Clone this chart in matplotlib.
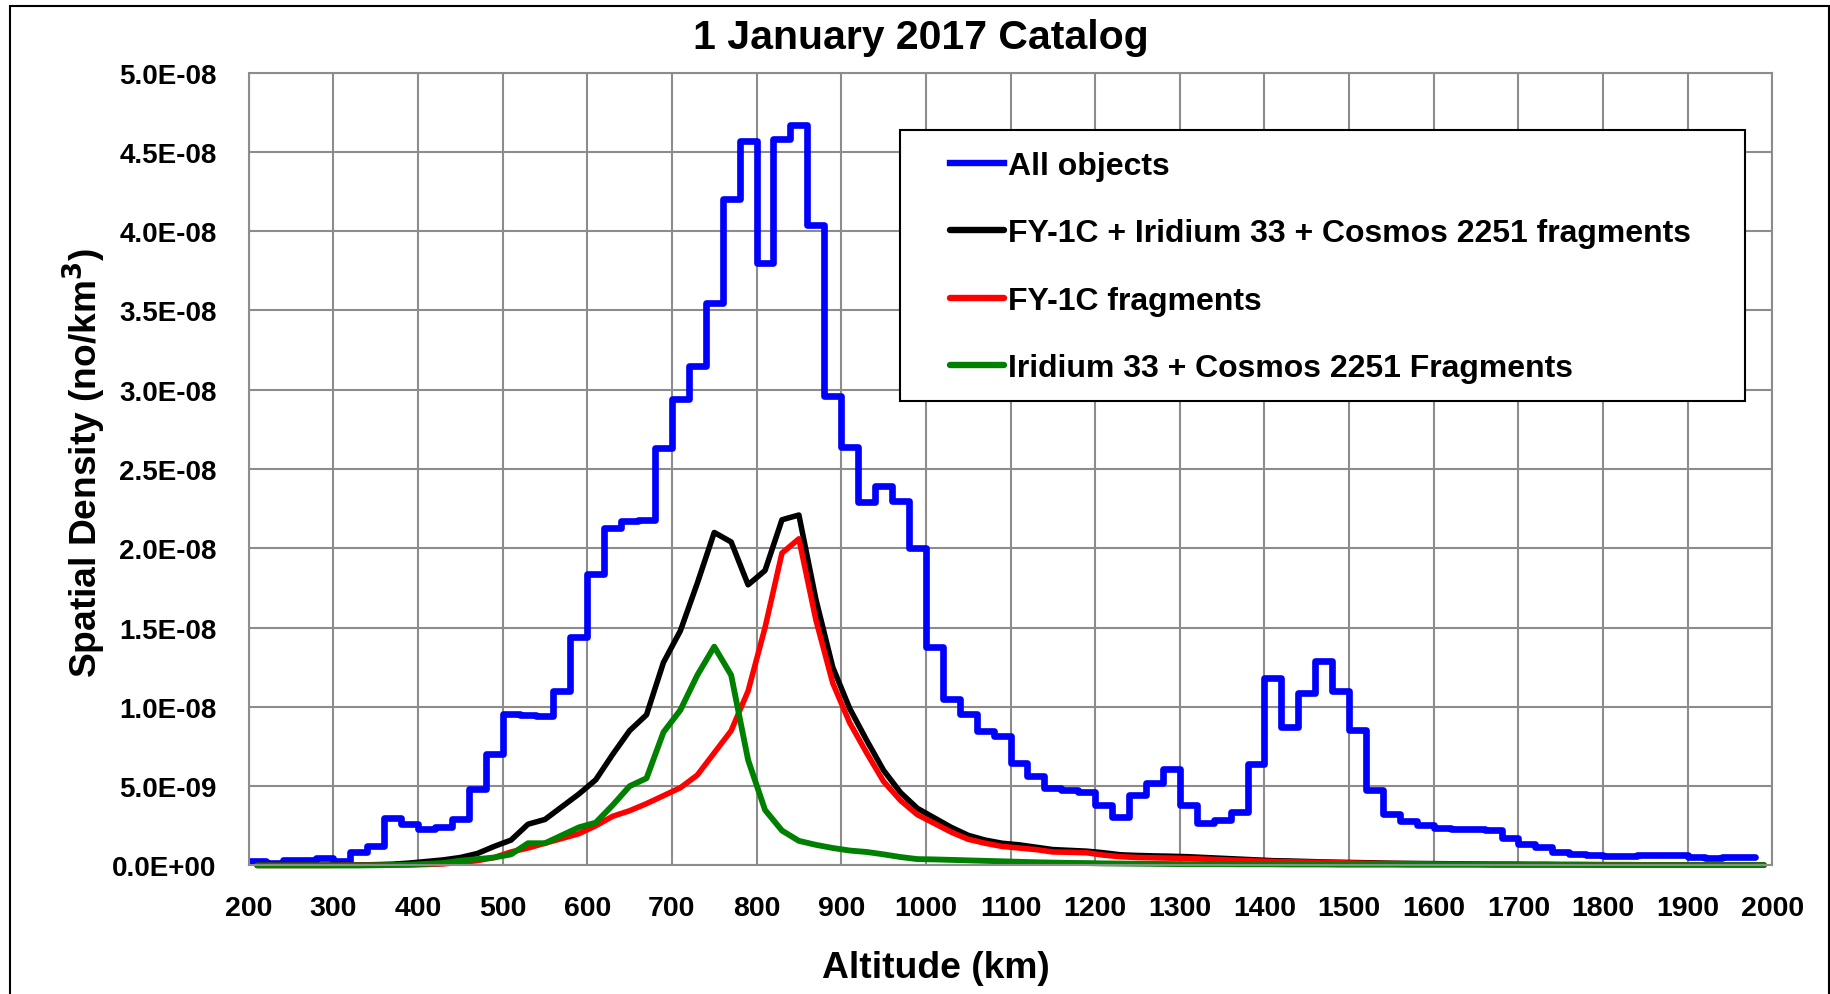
import matplotlib.pyplot as plt
import matplotlib.patches as mpatches
import numpy as np

plt.rcParams['font.family'] = ['Liberation Sans', 'DejaVu Sans']
plt.rcParams['font.weight'] = 'bold'

# spatial density values below are in units of 1e-8 no/km^3
SCALE = 1e-8

# All objects: 20 km bins, left edges 200 ... 1960
bin_left = list(range(200, 1961, 20))
all_objects = [
    0.025, 0.015, 0.035, 0.035, 0.045, 0.03, 0.085, 0.125, 0.30, 0.26,
    0.23, 0.24, 0.29, 0.48, 0.70, 0.956, 0.947, 0.944, 1.10, 1.44,
    1.84, 2.13, 2.17, 2.18, 2.63, 2.94, 3.15, 3.55, 4.20, 4.57,
    3.80, 4.58, 4.67, 4.04, 2.96, 2.64, 2.29, 2.39, 2.30, 2.00,
    1.38, 1.05, 0.956, 0.85, 0.815, 0.646, 0.562, 0.488, 0.474, 0.463,
    0.379, 0.305, 0.442, 0.52, 0.61, 0.379, 0.27, 0.284, 0.337, 0.638,
    1.185, 0.874, 1.09, 1.29, 1.10, 0.857, 0.474, 0.322, 0.28, 0.253,
    0.238, 0.232, 0.232, 0.225, 0.175, 0.133, 0.116, 0.084, 0.074, 0.067,
    0.059, 0.059, 0.063, 0.063, 0.063, 0.053, 0.05, 0.055, 0.055,
]
bin_edges = bin_left + [1980]

# fragment curves: bin centres 210 ... 1990
alt_mid = list(range(210, 1991, 20))
frag_all = [
    0.002, 0.002, 0.002, 0.002, 0.002, 0.003, 0.003, 0.005, 0.008, 0.015,
    0.025, 0.035, 0.05, 0.075, 0.12, 0.16, 0.26, 0.29, 0.37, 0.45,
    0.54, 0.70, 0.85, 0.95, 1.28, 1.48, 1.78, 2.10, 2.04, 1.77,
    1.86, 2.18, 2.21, 1.68, 1.25, 0.99, 0.79, 0.60, 0.46, 0.36,
    0.30, 0.24, 0.19, 0.16, 0.14, 0.13, 0.115, 0.10, 0.095, 0.09,
    0.08, 0.067, 0.063, 0.06, 0.058, 0.055, 0.05, 0.045, 0.04, 0.035,
    0.03, 0.028, 0.025, 0.022, 0.02, 0.018, 0.016, 0.014, 0.013, 0.012,
    0.011, 0.010, 0.009, 0.008, 0.008, 0.007, 0.007, 0.006, 0.006, 0.005,
    0.005, 0.005, 0.004, 0.004, 0.004, 0.004, 0.003, 0.003, 0.003, 0.003,
]
fy1c = [
    0.0, 0.0, 0.0, 0.0, 0.0, 0.001, 0.001, 0.002, 0.003, 0.004,
    0.006, 0.01, 0.02, 0.03, 0.05, 0.085, 0.11, 0.14, 0.17, 0.20,
    0.25, 0.31, 0.345, 0.39, 0.44, 0.49, 0.57, 0.71, 0.85, 1.10,
    1.50, 1.97, 2.06, 1.55, 1.15, 0.90, 0.71, 0.53, 0.41, 0.32,
    0.265, 0.21, 0.165, 0.14, 0.12, 0.11, 0.10, 0.085, 0.083, 0.08,
    0.065, 0.055, 0.05, 0.048, 0.046, 0.044, 0.04, 0.036, 0.032, 0.028,
    0.025, 0.023, 0.021, 0.019, 0.017, 0.015, 0.013, 0.012, 0.011, 0.010,
    0.009, 0.008, 0.008, 0.007, 0.007, 0.006, 0.006, 0.005, 0.005, 0.005,
    0.004, 0.004, 0.004, 0.003, 0.003, 0.003, 0.003, 0.002, 0.002, 0.002,
]
irid_cosmos = [
    0.0, 0.0, 0.0, 0.0, 0.0, 0.0, 0.0, 0.001, 0.003, 0.005,
    0.01, 0.015, 0.03, 0.04, 0.05, 0.07, 0.14, 0.14, 0.19, 0.24,
    0.27, 0.38, 0.50, 0.55, 0.84, 0.98, 1.20, 1.38, 1.20, 0.665,
    0.35, 0.22, 0.155, 0.13, 0.11, 0.094, 0.085, 0.07, 0.053, 0.04,
    0.038, 0.035, 0.032, 0.029, 0.026, 0.023, 0.02, 0.018, 0.016, 0.015,
    0.013, 0.012, 0.011, 0.01, 0.009, 0.008, 0.008, 0.008, 0.007, 0.007,
    0.007, 0.006, 0.006, 0.006, 0.005, 0.005, 0.005, 0.005, 0.004, 0.004,
    0.004, 0.004, 0.004, 0.003, 0.003, 0.003, 0.003, 0.003, 0.003, 0.002,
    0.002, 0.002, 0.002, 0.002, 0.002, 0.002, 0.002, 0.002, 0.002, 0.002,
]

labels = ['All objects', 'FY-1C + Iridium 33 + Cosmos 2251 fragments',
          'FY-1C fragments', 'Iridium 33 + Cosmos 2251 Fragments']
colors = ['#0000ff', '#000000', '#ff0000', '#008000']

fig = plt.figure(figsize=(18.31, 9.95), dpi=100)
ax = fig.add_axes([0.1358, 0.1292, 0.8322, 0.7968])

line_kw = dict(solid_capstyle='round', solid_joinstyle='round', clip_on=False)
ax.stairs(np.array(all_objects) * SCALE, bin_edges, baseline=None,
          color=colors[0], lw=4.8, label=labels[0], joinstyle='round', capstyle='round')
ax.plot(alt_mid, np.array(frag_all) * SCALE, color=colors[1], lw=4.0, label=labels[1], **line_kw)
ax.plot(alt_mid, np.array(fy1c) * SCALE, color=colors[2], lw=4.0, label=labels[2], **line_kw)
ax.plot(alt_mid, np.array(irid_cosmos) * SCALE, color=colors[3], lw=4.2, label=labels[3], **line_kw)

ax.set_xlim(200, 2000)
ax.set_ylim(0, 5e-8)
ax.set_xticks(np.arange(200, 2001, 100))
ax.set_yticks(np.arange(0, 5.01e-8, 5e-9))
ax.set_yticklabels(['%.1E' % v for v in np.arange(0, 5.01e-8, 5e-9)])
ax.tick_params(axis='x', length=0, pad=21.5, labelsize=20.5)
ax.tick_params(axis='y', length=0, pad=23, labelsize=20)
for lab in ax.get_xticklabels() + ax.get_yticklabels():
    lab.set_fontweight('bold')

ax.grid(True, color='#8c8c8c', lw=1.5)
ax.set_axisbelow(True)
for sp in ax.spines.values():
    sp.set_color('#8c8c8c')
    sp.set_linewidth(1.5)

fig.text(0.503, 0.9615, '1 January 2017 Catalog', ha='center', va='center',
         fontsize=29.5, fontweight='bold')
fig.text(0.511, 0.027, 'Altitude (km)', ha='center', va='center',
         fontsize=26.8, fontweight='bold')
fig.text(0.046, 0.535, 'Spatial Density (no/km$^\\mathbf{3}$)', ha='center', va='center',
         rotation=90, fontsize=26.7, fontweight='bold')

# legend frame drawn separately, legend entries without frame
ax.add_patch(mpatches.Rectangle((0.4274, 0.5858), 0.5545, 0.3418, transform=ax.transAxes,
                                facecolor='white', edgecolor='black', lw=1.5, zorder=5))
leg = ax.legend(loc='upper left', bbox_to_anchor=(0.4604, 0.901), frameon=False,
                fontsize=23, handlelength=1.7, handletextpad=0.12, labelspacing=1.17,
                borderpad=0, borderaxespad=0)
leg.set_zorder(6)
for h in leg.get_lines():
    h.set_linewidth(4.6)
for t in leg.get_texts():
    t.set_fontweight('bold')

fig.patches.append(mpatches.Rectangle((10 / 1831, -0.01), 1819 / 1831, 1 - 7 / 995 + 0.01,
                                      transform=fig.transFigure, fill=False,
                                      edgecolor='black', lw=1.5))

fig.savefig('out.png', dpi=100)
